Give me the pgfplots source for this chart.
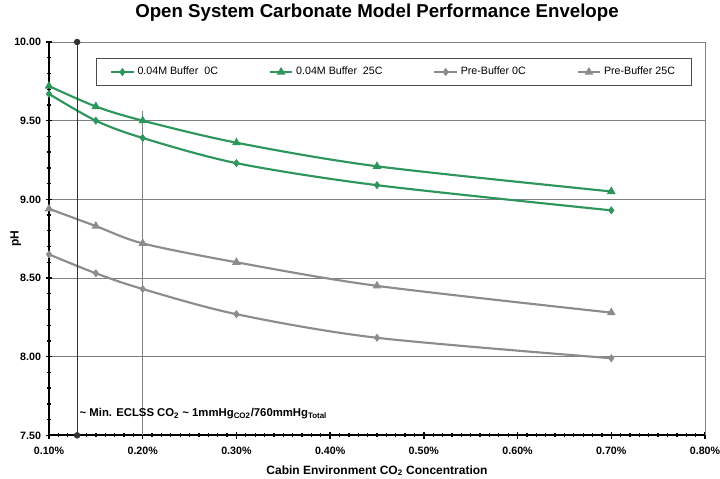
\documentclass[border=0pt]{standalone}
\usepackage{fontspec}
\setmainfont{Liberation Sans}
\usepackage{pgfplots}
\pgfplotsset{compat=1.18}
\definecolor{cgreen}{RGB}{46,150,92}
\definecolor{cgrey}{RGB}{140,140,140}
\begin{document}
\begin{tikzpicture}
\begin{axis}[
  scale only axis,
  width=492pt, height=295pt,
  xmin=0.1, xmax=0.8, ymin=7.5, ymax=10,
  xtick={0.1,0.2,...,0.81},
  ytick={7.5,8,...,10.01},
  minor x tick num=9,
  minor y tick num=4,
  axis x line=bottom, axis y line=left,
  axis line style={-, black, line width=1.3pt},
  tick align=center,
  major tick length=5pt, minor tick length=3pt,
  every tick/.style={black, line width=1pt},
  ymajorgrids, grid style={gray, line width=0.6pt},
  /pgf/number format/assume math mode=true,
  tick label style={font=\fontsize{8}{9}\selectfont\bfseries},
  xticklabel style={yshift=-3pt},
  xticklabel={\pgfmathprintnumber[fixed,fixed zerofill,precision=2]{\tick}\%},
  yticklabel={\pgfmathprintnumber[fixed,fixed zerofill,precision=2]{\tick}},
  xlabel={Cabin Environment CO\textsubscript{2} Concentration},
  ylabel={pH},
  label style={font=\fontsize{9}{10}\selectfont\bfseries},
  xlabel style={yshift=-1pt},
  ylabel style={yshift=-12pt},
  title={Open System Carbonate Model Performance Envelope},
  title style={font=\fontsize{14}{15}\selectfont\bfseries, yshift=6pt},
  legend columns=4,
  legend style={at={(0.072,0.959)}, anchor=north west, draw=black!70, line width=0.6pt,
    font=\fontsize{8}{10}\selectfont, inner xsep=10pt, inner ysep=4.5pt,
    /tikz/every even column/.append style={column sep=36pt}},
  legend cell align=left,
  clip=false,
]
\coordinate (sw) at (rel axis cs:0,0);
\coordinate (ne) at (rel axis cs:1,1);
\addplot[cgreen, line width=1.6pt, smooth, mark=diamond*, mark size=1.8pt] coordinates
 {(0.10,9.67)(0.15,9.50)(0.20,9.39)(0.30,9.23)(0.45,9.09)(0.70,8.93)};
\addlegendentry{0.04M Buffer~ 0C}
\addplot[cgreen, line width=1.6pt, smooth, mark=triangle*, mark size=2.2pt] coordinates
 {(0.10,9.72)(0.15,9.59)(0.20,9.50)(0.30,9.36)(0.45,9.21)(0.70,9.05)};
\addlegendentry{0.04M Buffer~ 25C}
\addplot[cgrey, line width=1.6pt, smooth, mark=diamond*, mark size=1.8pt] coordinates
 {(0.10,8.65)(0.15,8.53)(0.20,8.43)(0.30,8.27)(0.45,8.12)(0.70,7.99)};
\addlegendentry{Pre-Buffer 0C}
\addplot[cgrey, line width=1.6pt, smooth, mark=triangle*, mark size=2.2pt] coordinates
 {(0.10,8.94)(0.15,8.83)(0.20,8.72)(0.30,8.60)(0.45,8.45)(0.70,8.28)};
\addlegendentry{Pre-Buffer 25C}
\addplot[black!80, line width=0.8pt, mark=*, mark size=2pt, forget plot] coordinates {(0.13,7.5)(0.13,10)};
\addplot[gray, line width=0.7pt, forget plot] coordinates {(0.20,7.5)(0.20,9.56)};
\addplot[gray, line width=0.7pt, forget plot] coordinates {(0.80,7.5)(0.80,10)};
\node[anchor=west, font=\fontsize{8.5}{9}\selectfont\bfseries, inner sep=1pt] at (axis cs:0.131,7.64)
 {\textasciitilde{} Min. ECLSS CO\textsubscript{2} \textasciitilde{} 1mmHg\textsubscript{CO2}/760mmHg\textsubscript{Total}};
\end{axis}
\pgfresetboundingbox
\path ([shift={(-36.75pt,-32.25pt)}]sw) rectangle ([shift={(11.25pt,31.5pt)}]ne);
\end{tikzpicture}
\end{document}
